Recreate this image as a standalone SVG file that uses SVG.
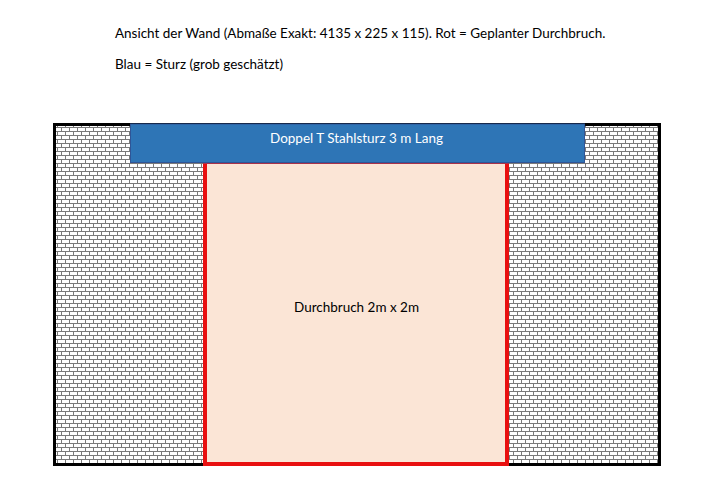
<svg xmlns="http://www.w3.org/2000/svg" width="707" height="487" viewBox="0 0 707 487">
<style>
text{font-family:"Lato","Open Sans","Liberation Sans",sans-serif;font-size:13.48px;fill:#000}
.c{text-anchor:middle}
</style>
<defs>
<pattern id="brick" patternUnits="userSpaceOnUse" x="54" y="127" width="8" height="8">
<rect width="8" height="8" fill="#fff"/>
<path d="M0 .5H8M0 4.500H8M7.500 0V4.500M3.500 4.500V8" stroke="#7a7a7a" stroke-width="1" fill="none"/>
</pattern>
</defs>
<rect width="707" height="487" fill="#fff"/>
<g id="caption">
<text x="115" y="38">Ansicht der Wand (Abmaße Exakt: 4135 x 225 x 115). Rot = Geplanter Durchbruch.</text>
<text x="115" y="69">Blau = Sturz (grob geschätzt)</text>
</g>
<g id="wall"><rect x="54.500" y="124.500" width="605" height="340" fill="url(#brick)" stroke="#000" stroke-width="3"/></g>
<g id="durchbruch">
<path d="M205 163H507V464H205Z" fill="#fbe5d6"/>
<path d="M205 163V464H507V163" fill="none" stroke="#e81010" stroke-width="4"/>
<path d="M203 163.500H509" stroke="#a8324a" stroke-width="1" fill="none"/>
<text class="c" x="356.500" y="312">Durchbruch 2m x 2m</text>
</g>
<g id="sturz">
<rect x="130.500" y="124" width="454" height="38.500" fill="#2e75b6" stroke="#2f5597" stroke-width="1"/>
<text class="c" x="356.500" y="143" style="fill:#fff">Doppel T Stahlsturz 3 m Lang</text>
</g>
<g id="connectors"></g>
</svg>
